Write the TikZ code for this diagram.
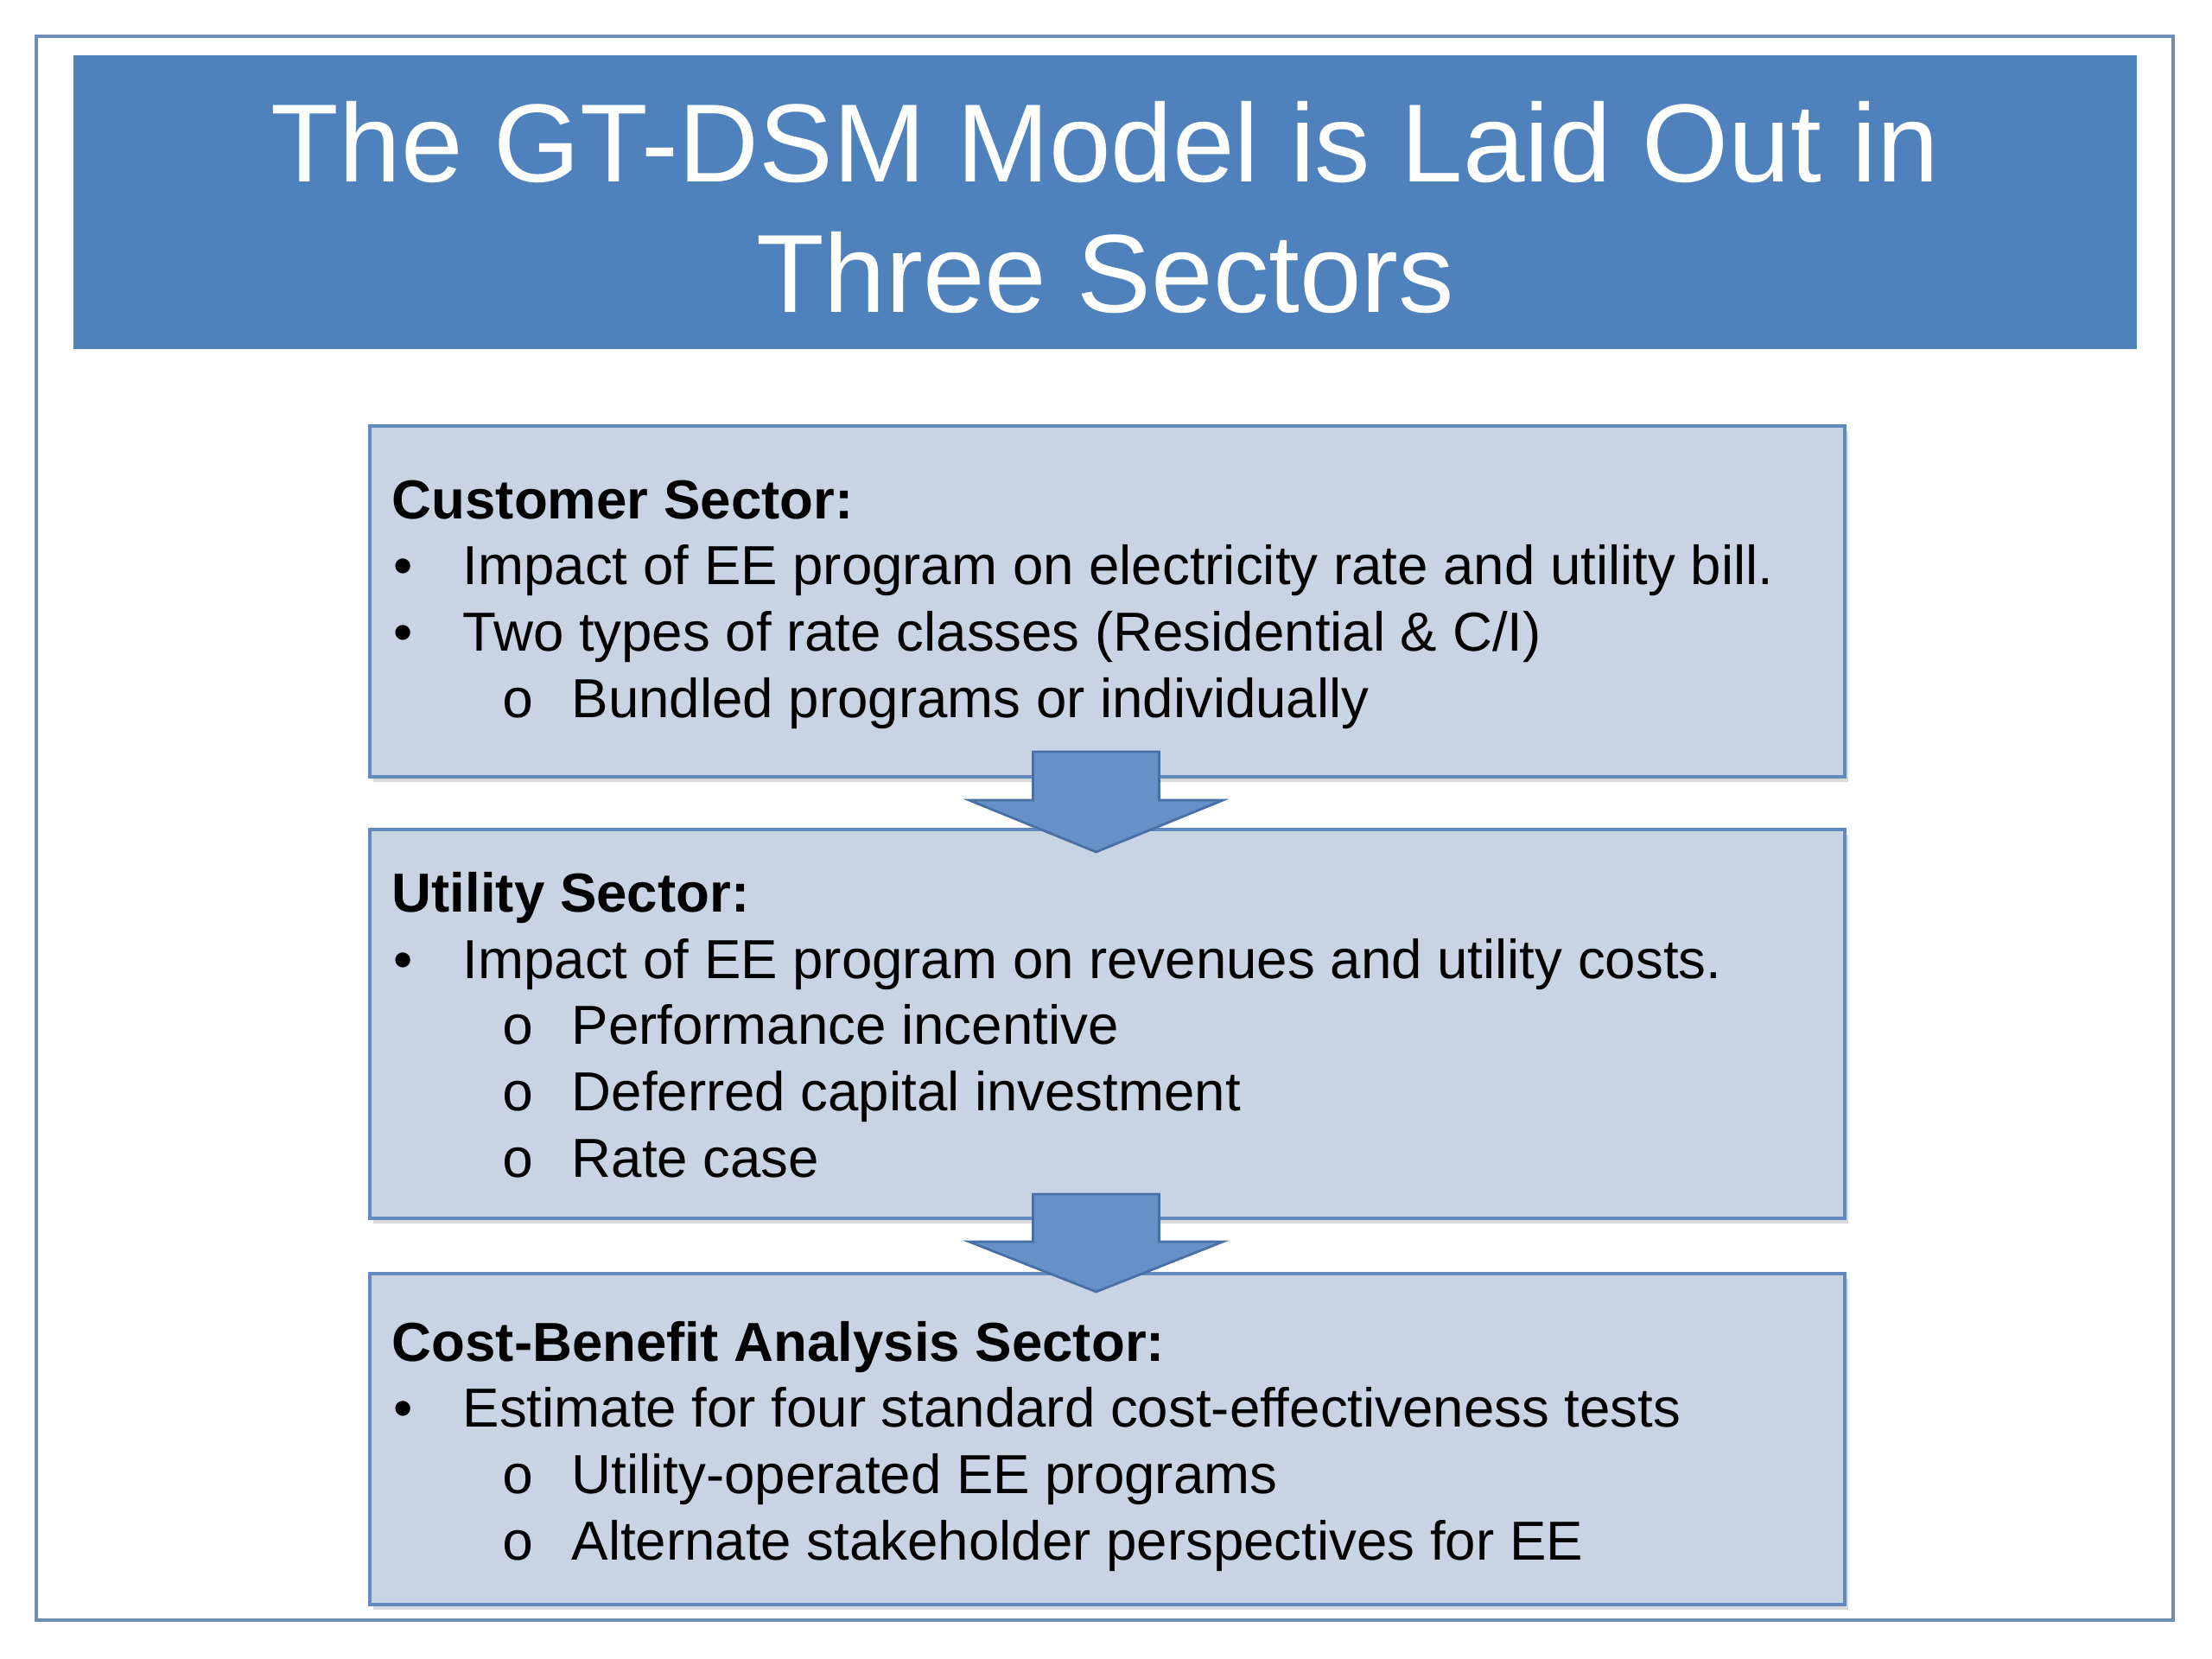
\documentclass[tikz,border=0pt]{standalone}
\usepackage{fontspec}
\setmainfont{Liberation Sans}
\newfontfamily\bulletmono{Liberation Mono}
\usetikzlibrary{shadows}

\definecolor{bannerblue}{RGB}{79,129,189}
\definecolor{framegray}{RGB}{110,140,180}
\definecolor{sectorfill}{RGB}{200,212,228}
\definecolor{sectordraw}{RGB}{98,138,190}
\definecolor{arrowfill}{RGB}{101,145,200}
\definecolor{arrowdraw}{RGB}{72,112,165}

% bullet levels as in the slide
\newcommand{\bulitm}[1]{\makebox[0.82cm][l]{\hspace{0.02cm}\textbullet}#1}
\newcommand{\subitm}[1]{\hspace*{1.27cm}\makebox[0.81cm][l]{\bulletmono o}#1}

\tikzset{
  sector/.style = {draw = sectordraw, line width = 1pt, fill = sectorfill, anchor = north west, inner sep = 0pt,
    drop shadow = {shadow xshift = .04cm, shadow yshift = -.06cm, opacity = .3}},
  sectortext/.style = {anchor = base west, align = left, inner sep = 0pt, font = \fontsize{18.1}{21.8}\selectfont},
  blockarrow/.style = {draw = arrowdraw, line width = .8pt, fill = arrowfill, line join = miter}
}

\begin{document}
\begin{tikzpicture}
\useasboundingbox (0,0) rectangle (25.6,-19.2);
\draw[draw = framegray, line width = 1.2pt] (.42,-.42) rectangle (25.15,-18.75);
\fill[bannerblue] (.85,-.64) rectangle (24.73,-4.04);
% text nodes sit on the baseline of their last line
\node[white, align = center, font = \fontsize{36.6}{43.2}\selectfont, anchor = base] (title) at (12.79,-3.62)
  {The GT-DSM Model is Laid Out in\\Three Sectors};

% the three sectors
\node[sector, minimum width = 17.07cm, minimum height = 4.06cm] (customer) at (4.26,-4.91) {};
\node[sector, minimum width = 17.07cm, minimum height = 4.50cm] (utility) at (4.26,-9.58) {};
\node[sector, minimum width = 17.07cm, minimum height = 3.83cm] (cba) at (4.26,-14.72) {};

\node[sectortext] (customertext) at (4.53,-8.30) {\textbf{Customer Sector:}\\
  \bulitm{Impact of EE program on electricity rate and utility bill.}\\
  \bulitm{Two types of rate classes (Residential \& C/I)}\\
  \subitm{Bundled programs or individually}};
\node[sectortext] (utilitytext) at (4.53,-13.62) {\textbf{Utility Sector:}\\
  \bulitm{Impact of EE program on revenues and utility costs.}\\
  \subitm{Performance incentive}\\
  \subitm{Deferred capital investment}\\
  \subitm{Rate case}};
\node[sectortext] (cbatext) at (4.53,-18.05) {\textbf{Cost-Benefit Analysis Sector:}\\
  \bulitm{Estimate for four standard cost-effectiveness tests}\\
  \subitm{Utility-operated EE programs}\\
  \subitm{Alternate stakeholder perspectives for EE}};

% arrows between sectors
\begin{scope}[shift = {(12.685,-9.86)}]
\draw[blockarrow] (-.73,1.16) -- (.73,1.16) -- (.73,.6) -- (1.47,.6) -- (0,0) -- (-1.47,.6) -- (-.73,.6) -- cycle;
\end{scope}
\begin{scope}[shift = {(12.685,-14.95)}]
\draw[blockarrow] (-.73,1.13) -- (.73,1.13) -- (.73,.58) -- (1.47,.58) -- (0,0) -- (-1.47,.58) -- (-.73,.58) -- cycle;
\end{scope}
\end{tikzpicture}
\end{document}
